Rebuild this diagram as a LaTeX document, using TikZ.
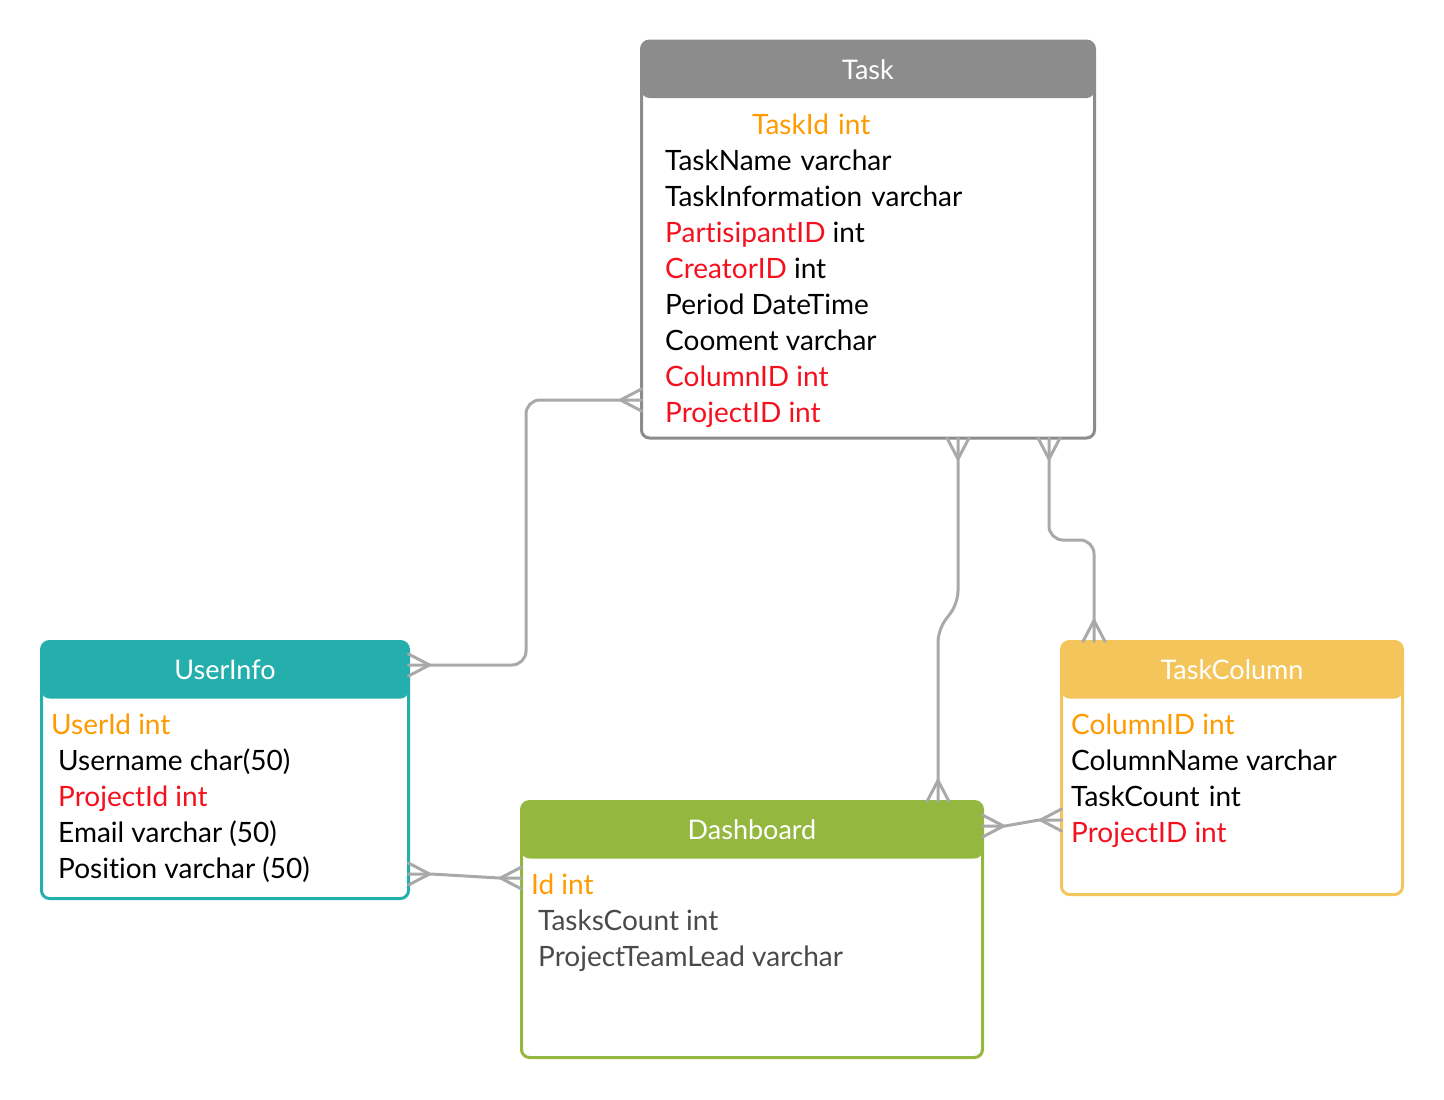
\documentclass[tikz,border=0pt]{standalone}
\usepackage{fontspec}
\setmainfont{Lato}[Ligatures=NoCommon]
\usetikzlibrary{calc}
\definecolor{taskgray}{HTML}{8C8C8C}
\definecolor{teal}{HTML}{24AFAD}
\definecolor{leaf}{HTML}{94B83F}
\definecolor{sun}{HTML}{F3C55A}
\definecolor{pk}{HTML}{FF9A00}
\definecolor{fk}{HTML}{F5101E}
\definecolor{soft}{HTML}{4A4A4A}
\definecolor{link}{HTML}{A9A9A9}
\tikzset{
  x=1pt, y=-1pt,
  tbl/.style={rectangle, rounded corners=8pt, line width=3pt, draw=#1, fill=white,
    inner sep=0pt, outer sep=0pt,
    path picture={\fill[#1] (path picture bounding box.north west) rectangle
      ([yshift=-57pt]path picture bounding box.north east);}},
  hdr/.style={font=\fontsize{27}{31}\selectfont, text=white, inner sep=0pt},
  row/.style={font=\fontsize{28}{32}\selectfont, anchor=mid west, inner sep=0pt, yshift=-7pt},
  conn/.style={draw=link, line width=3pt, line cap=round, line join=round},
  crow/.pic={\draw[conn] (-21,0) -- (0,11) (-21,0) -- (0,-11);}
}
\newcommand{\wsp}{\hspace{2pt}}
\begin{document}
\begin{tikzpicture}
\useasboundingbox (0,0) rectangle (1444,1100);

% tables
\node[tbl=taskgray, minimum width=453pt, minimum height=397pt] (task) at (868,239.5) {};
\node[tbl=teal, minimum width=367pt, minimum height=257pt] (user) at (225,770) {};
\node[tbl=leaf, minimum width=461pt, minimum height=256pt] (dash) at (752,929.5) {};
\node[tbl=sun, minimum width=341pt, minimum height=253pt] (col) at (1232,768) {};

% headers
\node[hdr] (taskh) at ([yshift=-28.5pt]task.north) {Task};
\node[hdr] (userh) at ([yshift=-28.5pt]user.north) {UserInfo};
\node[hdr] (dashh) at ([yshift=-28.5pt]dash.north) {Dashboard};
\node[hdr] (colh) at ([yshift=-28.5pt]col.north) {TaskColumn};

% Task rows
\node[row, text=pk] (t0) at (752,125) {TaskId\wsp{} int};
\node[row] (t1) at (665,161) {TaskName\wsp{} varchar};
\node[row] (t2) at (665,197) {TaskInformation\wsp{} varchar};
\node[row] (t3) at (665,233) {\textcolor{fk}{PartisipantID} int};
\node[row] (t4) at (665,269) {\textcolor{fk}{CreatorID} int};
\node[row] (t5) at (665,305) {Period DateTime};
\node[row] (t6) at (665,341) {Cooment varchar};
\node[row, text=fk] (t7) at (665,377) {ColumnID int};
\node[row, text=fk] (t8) at (665,413) {ProjectID int};

% UserInfo rows
\node[row, text=pk] (u0) at (51,725) {UserId int};
\node[row] (u1) at (58,761) {Username char(50)};
\node[row, text=fk] (u2) at (58,797) {ProjectId int};
\node[row] (u3) at (58,833) {Email varchar (50)};
\node[row] (u4) at (58,869) {Position varchar (50)};

% Dashboard rows
\node[row, text=pk] (d0) at (531,885) {Id int};
\node[row, text=soft] (d1) at (538,921) {TasksCount int};
\node[row, text=soft] (d2) at (538,957) {ProjectTeamLead varchar};

% TaskColumn rows
\node[row, text=pk] (c0) at (1071,725) {ColumnID int};
\node[row] (c1) at (1071,761) {ColumnName varchar};
\node[row] (c2) at (1071,797) {TaskCount\wsp{} int};
\node[row, text=fk] (c3) at (1071,833) {ProjectID int};

% connector end points on the table borders
\coordinate (taskL) at (task.west |- 0,400);
\coordinate (userR1) at (user.east |- 0,665);
\coordinate (taskB1) at (task.south -| 958,0);
\coordinate (dashT) at (dash.north -| 938,0);
\coordinate (taskB2) at (task.south -| 1049,0);
\coordinate (colT) at (col.north -| 1094,0);
\coordinate (userR2) at (user.east |- 0,874);
\coordinate (dashL) at (dash.west |- 0,878);
\coordinate (dashR) at (dash.east |- 0,826);
\coordinate (colL) at (col.west |- 0,820);

% connectors
\draw[conn, rounded corners=14pt] (taskL) -| (526,665) -- (userR1);
\draw[conn, rounded corners=12pt] (taskB1) -- (958,603) -- (938,630) -- (dashT);
\draw[conn, rounded corners=14pt] (taskB2) -- (1049,540) -- (1094,540) -- (colT);
\draw[conn] (userR2) -- (431,874) -- (499,878) -- (dashL);
\draw[conn] (dashR) -- (1005,826) -- (1039,820) -- (colL);

% crow's feet
\pic[rotate=0] at (taskL) {crow};
\pic[rotate=180] at (userR1) {crow};
\pic[rotate=90] at (taskB1) {crow};
\pic[rotate=-90] at (dashT) {crow};
\pic[rotate=90] at (taskB2) {crow};
\pic[rotate=-90] at (colT) {crow};
\pic[rotate=180] at (userR2) {crow};
\pic[rotate=0] at (dashL) {crow};
\pic[rotate=180] at (dashR) {crow};
\pic[rotate=0] at (colL) {crow};
\end{tikzpicture}
\end{document}
